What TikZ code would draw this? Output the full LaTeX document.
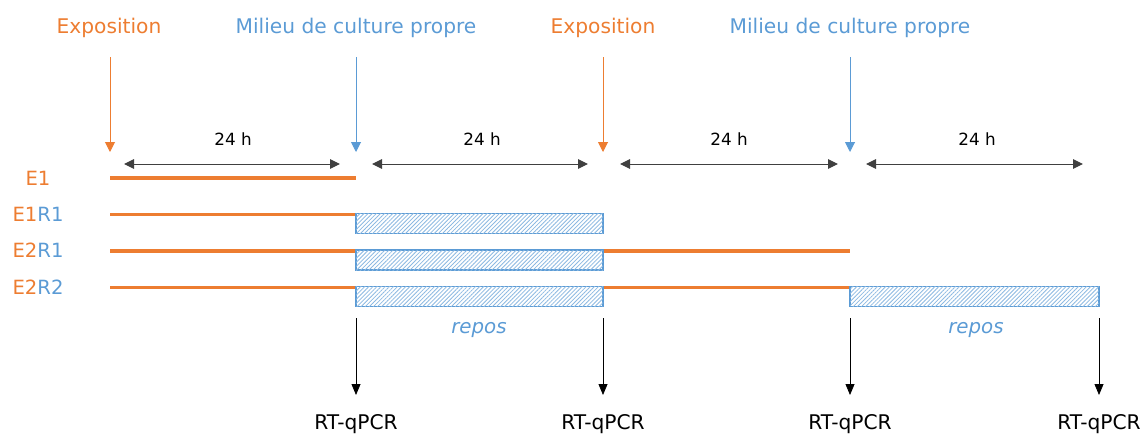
\documentclass[tikz,border=0pt]{standalone}
\usepackage{fontspec}
\setmainfont{DejaVu Sans}
\usetikzlibrary{arrows.meta,patterns.meta}
\definecolor{ora}{HTML}{ED7D31}
\definecolor{blu}{HTML}{5B9BD5}
\definecolor{dgray}{HTML}{404040}
\begin{document}
\begin{tikzpicture}[x=1pt,y=-1pt,
  hdr/.style={font=\fontsize{20.2}{24}\selectfont, anchor=base, inner sep=0pt},
  sml/.style={font=\fontsize{16.8}{20}\selectfont, anchor=base, inner sep=0pt},
  rowlab/.style={font=\fontsize{19.6}{23}\selectfont, anchor=base, inner sep=0pt},
  rep/.style={font=\fontsize{19.8}{23}\selectfont\itshape, text=blu, anchor=base, inner sep=0pt},
  exparrow/.style={draw=ora, line width=1pt, -{Triangle[length=10pt,width=10pt]}},
  milarrow/.style={draw=blu, line width=1pt, -{Triangle[length=10pt,width=10pt]}},
  durarrow/.style={draw=dgray, line width=1pt, {Triangle[length=10pt,width=9.5pt]}-{Triangle[length=10pt,width=9.5pt]}},
  pcrarrow/.style={draw=black, line width=0.8pt, -{Triangle[length=11pt,width=9pt]}},
  expline/.style={draw=ora, line width=3.8pt},
  hatchbox/.style={draw=blu, line width=1.5pt, inner sep=0pt, minimum height=20pt,
    fill=white, postaction={pattern={Lines[angle=45,distance=2.9pt,line width=0.8pt]}, pattern color=blu!70}},
]
\useasboundingbox (0,0) rectangle (1142,434);

% headers
\node[hdr, text=ora] (ex1) at (109,33) {Exposition};
\node[hdr, text=blu] (mi1) at (356,33) {Milieu de culture propre};
\node[hdr, text=ora] (ex2) at (603,33) {Exposition};
\node[hdr, text=blu] (mi2) at (850,33) {Milieu de culture propre};

% top arrows
\coordinate (ta1) at (110,57);  \coordinate (tb1) at (110,152);
\coordinate (ta2) at (356,57);  \coordinate (tb2) at (356,152);
\coordinate (ta3) at (603,57);  \coordinate (tb3) at (603,152);
\coordinate (ta4) at (850,57);  \coordinate (tb4) at (850,152);
\draw[exparrow] (ta1) -- (tb1);
\draw[milarrow] (ta2) -- (tb2);
\draw[exparrow] (ta3) -- (tb3);
\draw[milarrow] (ta4) -- (tb4);

% durations
\node[sml] (h1) at (233,145) {24 h};
\node[sml] (h2) at (482,145) {24 h};
\node[sml] (h3) at (729,145) {24 h};
\node[sml] (h4) at (977,145) {24 h};
\coordinate (d1a) at (124,164); \coordinate (d1b) at (340,164);
\coordinate (d2a) at (372,164); \coordinate (d2b) at (588,164);
\coordinate (d3a) at (620,164); \coordinate (d3b) at (838,164);
\coordinate (d4a) at (866,164); \coordinate (d4b) at (1083,164);
\draw[durarrow] (d1a) -- (d1b);
\draw[durarrow] (d2a) -- (d2b);
\draw[durarrow] (d3a) -- (d3b);
\draw[durarrow] (d4a) -- (d4b);

% row labels
\node[rowlab] (l1) at (38,185) {\textcolor{ora}{E1}};
\node[rowlab] (l2) at (38,221) {\textcolor{ora}{E1}\textcolor{blu}{R1}};
\node[rowlab] (l3) at (38,257.5) {\textcolor{ora}{E2}\textcolor{blu}{R1}};
\node[rowlab] (l4) at (38,294) {\textcolor{ora}{E2}\textcolor{blu}{R2}};

% hatched boxes (repos) -- placement
\coordinate (r1) at (479.5,223.5);
\coordinate (r2) at (479.5,260);
\coordinate (r3) at (479.5,296.5);
\coordinate (r4) at (974.5,296.5);

% exposure lines
\coordinate (s1) at (110,178); \coordinate (e1) at (356,178);
\coordinate (s2) at (110,214.5); \coordinate (e2) at (356,214.5);
\coordinate (s3) at (110,251);   \coordinate (e3a) at (356,251);
\coordinate (f3) at (603,251);   \coordinate (e3) at (850,251);
\coordinate (s4) at (110,287.5); \coordinate (e4a) at (356,287.5);
\coordinate (f4) at (603,287.5); \coordinate (e4) at (850,287.5);
\draw[expline] (s1) -- (e1);
\draw[expline] (s2) -- (e2);
\draw[expline] (s3) -- (e3a);
\draw[expline] (f3) -- (e3);
\draw[expline] (s4) -- (e4a);
\draw[expline] (f4) -- (e4);
\node[hatchbox, minimum width=247pt] (b1) at (r1) {};
\node[hatchbox, minimum width=247pt] (b2) at (r2) {};
\node[hatchbox, minimum width=247pt] (b3) at (r3) {};
\node[hatchbox, minimum width=249pt] (b4) at (r4) {};

\node[rep] (rp1) at (479,333) {repos};
\node[rep] (rp2) at (976,333) {repos};

% RT-qPCR
\coordinate (pa1) at (356,318);  \coordinate (pb1) at (356,395);
\coordinate (pa2) at (603,318);  \coordinate (pb2) at (603,395);
\coordinate (pa3) at (850,318);  \coordinate (pb3) at (850,395);
\coordinate (pa4) at (1099,318); \coordinate (pb4) at (1099,395);
\draw[pcrarrow] (pa1) -- (pb1);
\draw[pcrarrow] (pa2) -- (pb2);
\draw[pcrarrow] (pa3) -- (pb3);
\draw[pcrarrow] (pa4) -- (pb4);
\node[hdr] (q1) at (356,429) {RT-qPCR};
\node[hdr] (q2) at (603,429) {RT-qPCR};
\node[hdr] (q3) at (850,429) {RT-qPCR};
\node[hdr] (q4) at (1099,429) {RT-qPCR};
\end{tikzpicture}
\end{document}
